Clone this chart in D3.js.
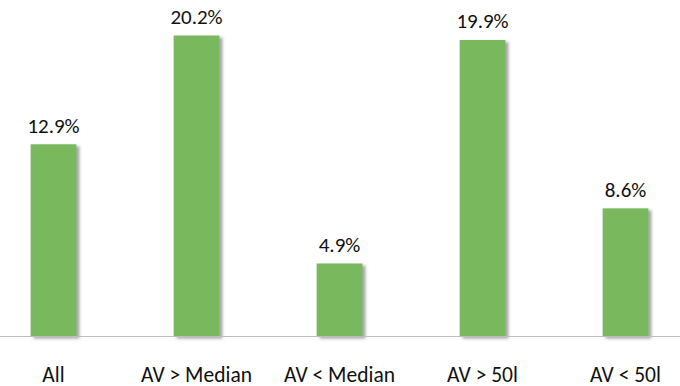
<!DOCTYPE html>
<html>
<head>
<meta charset="utf-8">
<script src="https://cdn.jsdelivr.net/npm/d3@7"></script>
<style>
  body { margin: 0; background: #fff; }
  svg { display: block; font-family: Carlito, "Open Sans", sans-serif; }
</style>
</head>
<body>
<svg id="chart" width="680" height="386"></svg>
<script>
//======================== data ========================
const categories = ['All', 'AV > Median', 'AV < Median', 'AV > 50l', 'AV < 50l']
const values = [12.9, 20.2, 4.9, 19.9, 8.6]
const valueLabels = ['12.9%', '20.2%', '4.9%', '19.9%', '8.6%']

//======================== chart =======================
let svg = d3.select('#chart'),
    W = 680,
    baseY = 336.5

// shadow behind the bars
let defs = svg.append('defs')
defs.append('filter')
    .attr('id', 'shadow')
    .attr('x', '-20%').attr('y', '-20%')
    .attr('width', '150%').attr('height', '150%')
  .append('feDropShadow')
    .attr('dx', 3).attr('dy', 2)
    .attr('stdDeviation', 1.6)
    .attr('flood-color', '#555')
    .attr('flood-opacity', 0.55)

let x = d3.scaleBand()
  .domain(categories)
  .range([-18, 697])
  .paddingInner(0.68)
  .paddingOuter(0.34)

let y = d3.scaleLinear()
  .domain([0, 22])
  .range([baseY, baseY - 22 * 14.9])

// bars
svg.selectAll('rect.bar')
  .data(values)
  .join('rect')
    .attr('class', 'bar')
    .attr('x', (d, i) => x(categories[i]))
    .attr('y', d => y(d))
    .attr('width', x.bandwidth())
    .attr('height', d => y(0) - y(d))
    .attr('fill', '#79b85b')
    .attr('filter', 'url(#shadow)')

// axis line
svg.append('line')
  .attr('x1', 0).attr('x2', W)
  .attr('y1', baseY).attr('y2', baseY)
  .attr('stroke', '#bdbdbd')
  .attr('stroke-width', 1)

// value labels
svg.selectAll('text.val')
  .data(values)
  .join('text')
    .attr('class', 'val')
    .attr('x', (d, i) => x(categories[i]) + x.bandwidth() / 2)
    .attr('y', d => y(d) - 11.5)
    .attr('text-anchor', 'middle')
    .attr('font-size', 21)
    .attr('fill', '#111')
    .text((d, i) => valueLabels[i])

// category labels
let xAxis = d3.axisBottom(x).tickSize(0).tickPadding(0)
let gx = svg.append('g')
  .attr('transform', `translate(0,${baseY})`)
  .call(xAxis)
gx.select('.domain').remove()
gx.selectAll('text')
  .attr('y', 45)
  .attr('dy', 0)
  .attr('font-size', 21.5)
  .attr('font-family', 'Carlito, "Open Sans", sans-serif')
  .attr('fill', '#111')
</script>
</body>
</html>
